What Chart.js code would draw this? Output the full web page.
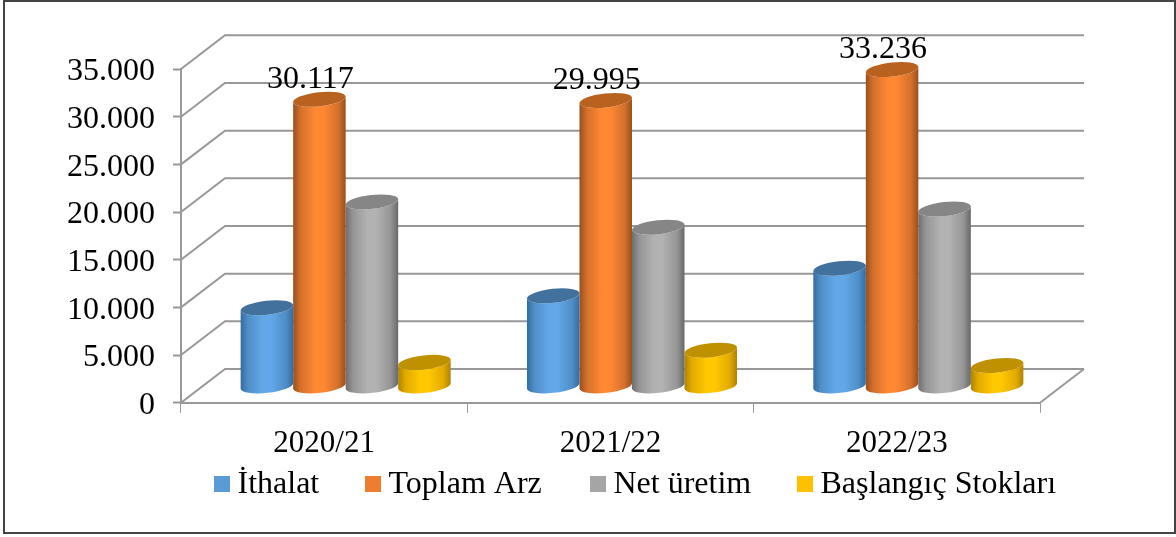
<!DOCTYPE html>
<html><head><meta charset="utf-8">
<style>html,body{margin:0;padding:0;background:#fff}#w{width:1176px;height:537px;position:relative}</style>
<script src="https://cdn.jsdelivr.net/npm/chart.js@4"></script>
</head><body><div id="w"><canvas id="c" width="1176" height="537"></canvas></div>
<script>
const categories = ['2020/21','2021/22','2022/23'];
const seriesNames = ['İthalat','Toplam Arz','Net üretim','Başlangıç Stokları'];
const ithalat = [8250,9500,12400];
const toplamArz = [30117,29995,33236];
const netUretim = [19350,16700,18600];
const baslangicStoklari = [2520,3800,2200];
const swatches = ['#5B9BD5','#ED7D31','#A5A5A5','#FFC000'];
const bodyStops = [
  ['#346c9f','#4f8ec8','#62A8E8','#62A8E8','#4f8ec8','#346c9f'],
  ['#97501d','#d4702c','#FF8833','#FF8833','#d4702c','#97501d'],
  ['#6e6e6e','#959595','#B2B2B2','#B2B2B2','#959595','#686868'],
  ['#ad8300','#e3aa00','#FFC800','#FFC800','#e3aa00','#ad8300']];
const capColors = ['#41719C','#B9611F','#868686','#BF9000'];
const FONT = '"Liberation Serif"';
const DX=21.5, DY=-16.3, BACKX=44, BACKY=-33.7, TILT=-6.2*Math.PI/180, RY=7;
const LEGEND_X = [214,365,590,797];

const scene = {
  id:'scene',
  beforeDatasetsDraw(chart){
    const {ctx,scales:{x,y}}=chart, L=x.left, R=x.right;
    ctx.save();
    ctx.strokeStyle='#989898'; ctx.lineWidth=2;
    y.ticks.forEach(t=>{
      const p=y.getPixelForValue(t.value);
      ctx.beginPath(); ctx.moveTo(L,p); ctx.lineTo(L+BACKX,p+BACKY); ctx.lineTo(R+BACKX,p+BACKY); ctx.stroke();
    });
    const p0=y.getPixelForValue(0);
    ctx.beginPath(); ctx.moveTo(R,p0); ctx.lineTo(R+BACKX,p0+BACKY); ctx.stroke();
    ctx.restore();
  },
  beforeDatasetDraw(chart,args){
    const {ctx}=chart, i=args.index;
    ctx.save(); ctx.translate(DX,DY);
    args.meta.data.forEach(b=>{
      const rx=b.width/2/Math.cos(TILT), xl=b.x-b.width/2, xr=b.x+b.width/2;
      const g=ctx.createLinearGradient(xl,0,xr,0);
      [0,.14,.42,.58,.86,1].forEach((s,k)=>g.addColorStop(s,bodyStops[i][k]));
      ctx.fillStyle=g;
      ctx.beginPath();
      ctx.ellipse(b.x,b.base,rx,RY,TILT,0,Math.PI,false);
      ctx.ellipse(b.x,b.y,rx,RY,TILT,Math.PI,0,true);
      ctx.closePath(); ctx.fill();
      ctx.fillStyle=capColors[i];
      ctx.beginPath(); ctx.ellipse(b.x,b.y,rx,RY,TILT,0,Math.PI*2); ctx.fill();
    });
    ctx.restore();
    return false;
  },
  afterDraw(chart){
    const {ctx}=chart;
    ctx.save();
    ctx.fillStyle='#000'; ctx.font='32px '+FONT; ctx.textAlign='center'; ctx.textBaseline='alphabetic';
    const meta=chart.getDatasetMeta(1);
    meta.data.forEach((b,k)=>{
      const txt=toplamArz[k].toLocaleString('de-DE');
      ctx.fillText(txt,b.x+DX-9,b.y+DY-11.5);
    });
    // legend
    ctx.textAlign='left';
    const ly=484;
    chart.data.datasets.forEach((d,i)=>{
      const px=LEGEND_X[i];
      ctx.fillStyle=swatches[i]; ctx.fillRect(px,ly-8,16,16);
      ctx.fillStyle='#000'; ctx.fillText(d.label,px+23.5,ly+9);
    });
    ctx.strokeStyle='#444'; ctx.lineWidth=2;
    ctx.strokeRect(4,1,1171,532);
    ctx.restore();
  }
};

new Chart(document.getElementById('c'),{
  type:'bar',
  data:{labels:categories,datasets:[ithalat,toplamArz,netUretim,baslangicStoklari].map((v,i)=>({
    label:seriesNames[i],data:v,backgroundColor:swatches[i],categoryPercentage:0.7335,barPercentage:1
  }))},
  options:{
    responsive:false,animation:false,
    layout:{padding:{left:0,right:136,top:69,bottom:0}},
    plugins:{legend:{display:false},tooltip:{enabled:false},title:{display:false}},
    scales:{
      x:{
        afterFit(s){s.height=134.3;},
        offset:true,
        border:{color:'#989898',width:2},
        grid:{drawOnChartArea:false,offset:true,tickLength:10,color:'#989898',tickWidth:1},
        ticks:{color:'#000',font:{family:FONT,size:31},padding:13,maxRotation:0}
      },
      y:{
        afterFit(s){s.width=181;},
        min:0,max:35000,
        border:{color:'#989898',width:2},
        grid:{drawOnChartArea:false,tickLength:8,color:'#989898',tickWidth:2},
        ticks:{stepSize:5000,color:'#000',font:{family:FONT,size:32},padding:18,labelOffset:3,
          callback:v=>v===0?'0':v.toLocaleString('de-DE')}
      }
    }
  },
  plugins:[scene]
});
</script></body></html>
